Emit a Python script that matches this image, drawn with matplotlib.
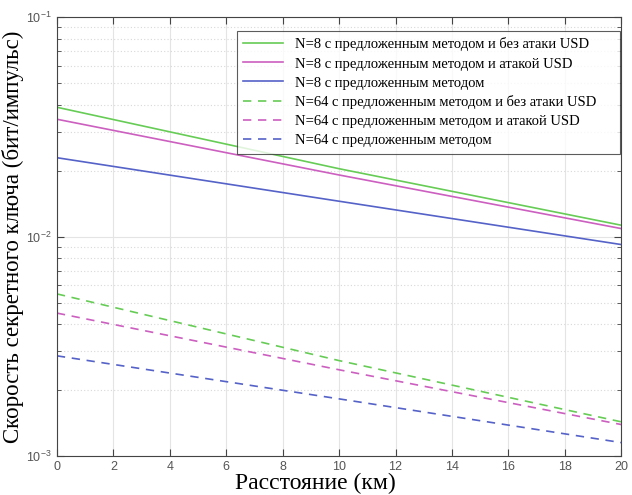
import numpy as np
import matplotlib.pyplot as plt
from matplotlib.ticker import LogLocator

# данные
distance_km = [0, 10, 20]
n8_no_attack = [0.0389, 0.0204, 0.01127]
n8_attack = [0.0343, 0.0191, 0.01088]
n8_method = [0.0229, 0.0145, 0.0092]
n64_no_attack = [0.00548, 0.00272, 0.00143]
n64_attack = [0.00448, 0.00247, 0.00139]
n64_method = [0.00286, 0.00182, 0.00115]

labels = [
    "N=8 с предложенным методом и без атаки USD",
    "N=8 с предложенным методом и атакой USD",
    "N=8 с предложенным методом",
    "N=64 с предложенным методом и без атаки USD",
    "N=64 с предложенным методом и атакой USD",
    "N=64 с предложенным методом",
]

GREEN = "#66cc55"
MAGENTA = "#cc5fc0"
BLUE = "#5562c8"

fig = plt.figure(figsize=(6.32, 4.95), dpi=100)
ax = fig.add_axes([0.090, 0.079, 0.893, 0.886])

series = [
    (n8_no_attack, GREEN, "-"),
    (n8_attack, MAGENTA, "-"),
    (n8_method, BLUE, "-"),
    (n64_no_attack, GREEN, (0, (5, 4))),
    (n64_attack, MAGENTA, (0, (5, 4))),
    (n64_method, BLUE, (0, (5, 4))),
]
for (vals, color, ls), lab in zip(series, labels):
    ax.plot(distance_km, vals, color=color, linestyle=ls, linewidth=1.2, label=lab)

ax.set_yscale("log")
ax.set_xlim(0, 20)
ax.set_ylim(1e-3, 1e-1)
ax.set_xticks(np.arange(0, 21, 2))
ax.yaxis.set_minor_locator(LogLocator(base=10, subs=np.arange(2, 10)))

ax.grid(True, which="major", color="#e4e4e4", linewidth=0.8, linestyle="-")
ax.grid(True, which="minor", axis="y", color="#d8d8d8", linewidth=0.8, linestyle=(0, (1, 2)))
ax.set_axisbelow(True)

ax.tick_params(which="both", direction="in", top=True, right=True, colors="#444444",
               labelcolor="#555555", labelsize=9)
ax.tick_params(which="major", length=5)
ax.tick_params(which="minor", length=3)
for lbl in ax.get_xticklabels() + ax.get_yticklabels():
    lbl.set_family("Liberation Sans")
for sp in ax.spines.values():
    sp.set_color("#444444")
    sp.set_linewidth(0.8)

ax.set_xlabel("Расстояние (км)", family="Liberation Serif", fontsize=17, labelpad=0)
ax.xaxis.set_label_coords(0.458, -0.038)
ax.set_ylabel("Скорость секретного ключа (бит/импульс)", family="Liberation Serif",
              fontsize=16.5, labelpad=2)

leg = ax.legend(loc="upper left", bbox_to_anchor=(0.319, 0.698, 0.679, 0.271),
                mode="expand", borderaxespad=0,
                prop={"family": "Liberation Serif", "size": 10.5},
                frameon=True, fancybox=False, edgecolor="#333333",
                handlelength=2.7, handletextpad=0.8, labelspacing=0.4,
                borderpad=0.45)
leg.get_frame().set_linewidth(0.8)

fig.savefig("out.png", dpi=100)
